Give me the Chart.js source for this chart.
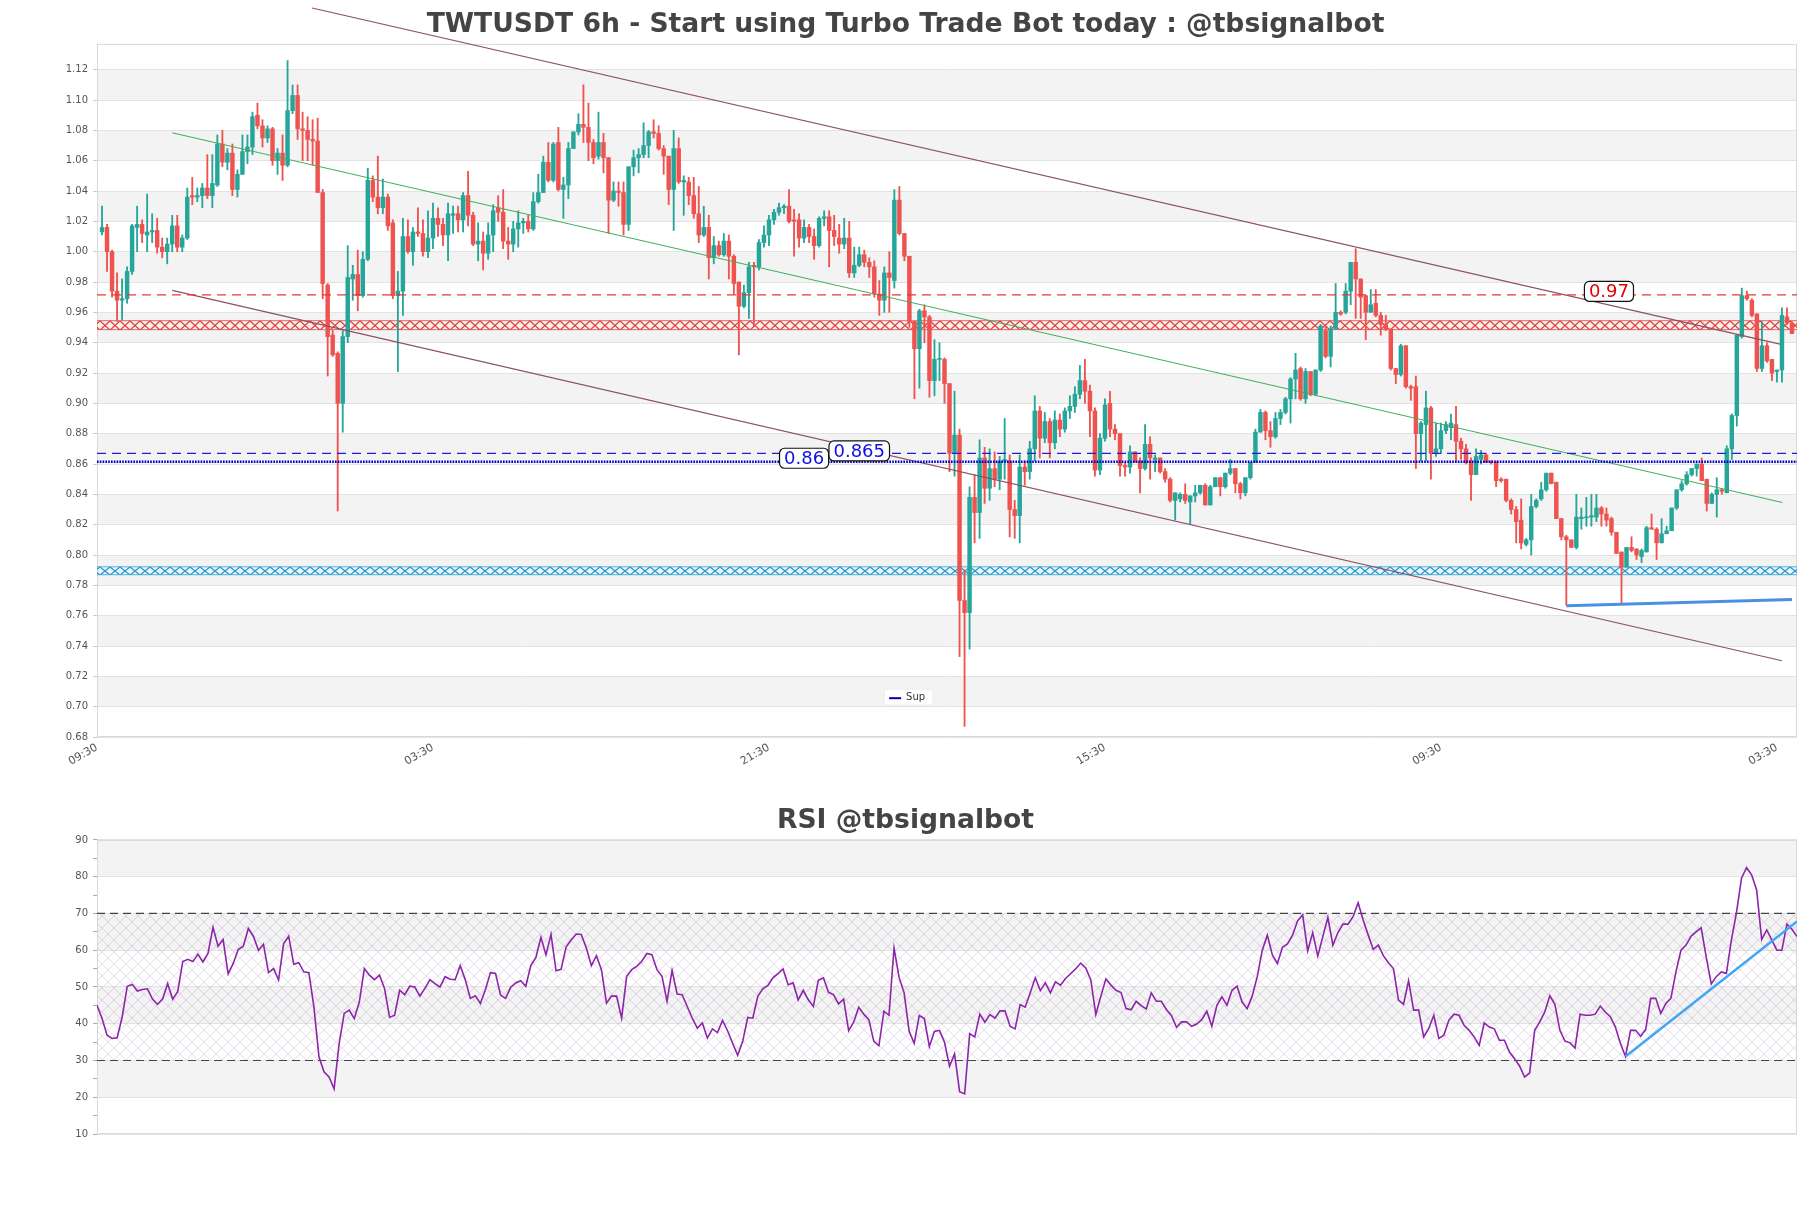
<!DOCTYPE html>
<html>
<head>
<meta charset="utf-8">
<title>TWTUSDT 6h</title>
<script src="https://cdn.jsdelivr.net/npm/chart.js@4.4.1/dist/chart.umd.min.js"></script>
<style>
  html, body { margin: 0; padding: 0; background: #fff; }
  #wrap { position: relative; width: 1811px; height: 1208px; }
  #wrap canvas { position: absolute; left: 0; }
</style>
</head>
<body>
<div id="wrap">
  <canvas id="main" width="1811" height="790" style="top:0;width:1811px;height:790px"></canvas>
  <canvas id="rsi" width="1811" height="418" style="top:790px;width:1811px;height:418px"></canvas>
</div>
<script>
// 6h candles, oldest first
const opens = [
  1.013,1.016,1.000,0.974,0.968,0.969,0.987,1.016,1.018,1.011,
  1.013,1.014,1.003,1.000,1.005,1.017,1.003,1.009,1.037,1.036,
  1.037,1.042,1.037,1.044,1.071,1.059,1.065,1.041,1.051,1.066,
  1.069,1.090,1.083,1.075,1.081,1.060,1.065,1.057,1.093,1.103,
  1.081,1.080,1.074,1.073,1.039,0.978,0.945,0.933,0.900,0.944,
  0.982,0.985,0.971,0.995,1.047,1.036,1.029,1.036,1.019,0.971,
  0.974,1.010,1.000,1.013,1.012,1.000,1.009,1.022,1.018,1.011,
  1.024,1.025,1.021,1.037,1.024,1.005,1.007,0.999,1.011,1.029,
  1.026,1.007,1.005,1.015,1.019,1.020,1.015,1.033,1.039,1.059,
  1.047,1.072,1.041,1.044,1.068,1.079,1.084,1.082,1.072,1.063,
  1.072,1.062,1.034,1.040,1.039,1.018,1.056,1.062,1.064,1.070,
  1.079,1.078,1.068,1.063,1.041,1.068,1.046,1.046,1.037,1.025,
  1.011,1.016,0.996,1.004,0.998,1.007,0.997,0.980,0.964,0.973,
  0.991,0.990,1.006,1.011,1.021,1.026,1.029,1.030,1.021,1.021,
  1.009,1.016,1.010,1.004,1.022,1.023,1.014,1.009,1.005,1.009,
  0.986,0.991,0.998,0.993,0.990,0.972,0.968,0.986,0.981,1.034,
  1.012,0.997,0.954,0.936,0.961,0.957,0.915,0.929,0.929,0.913,
  0.867,0.879,0.770,0.762,0.838,0.828,0.864,0.844,0.857,0.850,
  0.862,0.862,0.830,0.826,0.858,0.855,0.870,0.895,0.877,0.888,
  0.874,0.889,0.883,0.895,0.898,0.906,0.915,0.908,0.895,0.856,
  0.877,0.900,0.883,0.880,0.859,0.858,0.868,0.862,0.857,0.873,
  0.863,0.864,0.855,0.850,0.836,0.837,0.840,0.835,0.839,0.841,
  0.846,0.833,0.845,0.851,0.845,0.854,0.857,0.847,0.841,0.851,
  0.861,0.881,0.894,0.882,0.878,0.890,0.894,0.903,0.916,0.923,
  0.903,0.921,0.906,0.922,0.948,0.931,0.949,0.960,0.960,0.974,
  0.993,0.982,0.971,0.960,0.966,0.958,0.952,0.949,0.923,0.919,
  0.938,0.911,0.911,0.880,0.886,0.897,0.867,0.870,0.882,0.884,
  0.886,0.875,0.870,0.862,0.853,0.863,0.866,0.862,0.861,0.850,
  0.850,0.836,0.830,0.823,0.807,0.810,0.832,0.837,0.843,0.854,
  0.848,0.824,0.812,0.810,0.805,0.824,0.8245,0.825,0.825,0.831,
  0.827,0.824,0.815,0.802,0.792,0.805,0.804,0.799,0.802,0.818,
  0.817,0.808,0.814,0.816,0.831,0.843,0.847,0.853,0.857,0.860,
  0.850,0.834,0.840,0.843,0.841,0.870,0.892,0.944,0.971,0.968,
  0.959,0.923,0.938,0.929,0.921,0.922,0.957,0.953
];
const highs = [
  1.030,1.018,1.001,0.986,0.982,0.990,1.018,1.030,1.021,1.038,
  1.025,1.022,1.009,1.009,1.024,1.024,1.011,1.042,1.049,1.042,
  1.045,1.064,1.064,1.077,1.080,1.068,1.071,1.054,1.077,1.077,
  1.092,1.098,1.087,1.083,1.082,1.068,1.077,1.126,1.110,1.110,
  1.092,1.089,1.087,1.088,1.041,0.979,0.948,0.934,0.948,1.004,
  0.991,1.001,1.000,1.055,1.050,1.063,1.048,1.038,1.021,0.987,
  1.022,1.021,1.016,1.029,1.021,1.027,1.032,1.029,1.022,1.032,
  1.030,1.030,1.039,1.053,1.026,1.019,1.013,1.019,1.031,1.037,
  1.041,1.016,1.020,1.027,1.022,1.024,1.039,1.051,1.063,1.072,
  1.072,1.082,1.049,1.072,1.079,1.091,1.110,1.098,1.074,1.092,
  1.078,1.062,1.046,1.046,1.046,1.056,1.067,1.068,1.085,1.080,
  1.087,1.083,1.070,1.063,1.080,1.075,1.050,1.049,1.049,1.043,
  1.030,1.024,1.010,1.007,1.012,1.011,0.998,0.980,0.978,0.993,
  0.993,1.008,1.017,1.024,1.028,1.032,1.031,1.041,1.028,1.025,
  1.021,1.018,1.015,1.023,1.027,1.027,1.024,1.018,1.022,1.020,
  1.003,1.003,1.001,0.996,0.994,0.981,0.990,1.000,1.041,1.043,
  1.012,0.997,0.954,0.962,0.965,0.958,0.942,0.940,0.930,0.913,
  0.908,0.883,0.790,0.845,0.853,0.876,0.871,0.870,0.868,0.865,
  0.890,0.866,0.836,0.866,0.862,0.875,0.905,0.898,0.894,0.890,
  0.895,0.893,0.897,0.905,0.911,0.925,0.929,0.912,0.897,0.880,
  0.903,0.908,0.886,0.880,0.861,0.872,0.868,0.864,0.886,0.878,
  0.866,0.864,0.857,0.851,0.841,0.841,0.847,0.839,0.846,0.846,
  0.847,0.846,0.851,0.851,0.854,0.863,0.857,0.848,0.851,0.861,
  0.883,0.896,0.895,0.888,0.894,0.896,0.904,0.917,0.933,0.924,
  0.923,0.921,0.922,0.952,0.952,0.951,0.979,0.961,0.979,0.993,
  1.002,0.982,0.971,0.975,0.975,0.960,0.958,0.949,0.923,0.939,
  0.938,0.912,0.918,0.888,0.908,0.898,0.887,0.887,0.888,0.893,
  0.898,0.877,0.873,0.864,0.870,0.869,0.867,0.862,0.862,0.851,
  0.850,0.837,0.832,0.837,0.811,0.840,0.837,0.848,0.854,0.854,
  0.848,0.824,0.813,0.810,0.840,0.831,0.838,0.840,0.840,0.832,
  0.831,0.825,0.815,0.802,0.805,0.812,0.804,0.804,0.819,0.827,
  0.818,0.824,0.819,0.831,0.843,0.849,0.855,0.857,0.860,0.864,
  0.850,0.841,0.851,0.844,0.872,0.893,0.945,0.976,0.974,0.969,
  0.959,0.954,0.940,0.929,0.922,0.963,0.963,0.954
];
const lows = [
  1.011,0.987,0.970,0.954,0.955,0.966,0.985,1.000,1.006,1.000,
  1.006,0.999,0.996,0.992,1.000,1.000,1.000,1.008,1.031,1.033,
  1.029,1.035,1.029,1.043,1.056,1.054,1.037,1.036,1.051,1.058,
  1.064,1.081,1.069,1.072,1.057,1.051,1.047,1.056,1.091,1.074,
  1.060,1.060,1.057,1.048,0.969,0.918,0.931,0.829,0.881,0.940,
  0.968,0.961,0.970,0.994,1.033,1.025,1.025,1.014,0.969,0.921,
  0.958,0.999,0.991,1.010,0.997,0.996,1.002,1.010,1.004,0.994,
  1.012,1.013,1.013,1.017,1.004,0.994,0.988,0.995,1.000,1.020,
  1.002,0.995,1.000,1.003,1.012,1.013,1.014,1.032,1.039,1.046,
  1.046,1.040,1.022,1.035,1.068,1.077,1.072,1.060,1.058,1.061,
  1.052,1.012,1.033,1.030,1.011,1.014,1.050,1.052,1.062,1.062,
  1.075,1.067,1.051,1.031,1.014,1.045,1.024,1.031,1.022,1.006,
  1.010,0.982,0.992,0.997,0.997,0.982,0.972,0.932,0.963,0.956,
  0.951,0.988,1.003,1.004,1.018,1.024,1.025,1.019,0.997,1.003,
  1.006,1.006,0.995,1.003,1.017,0.990,1.004,0.999,1.002,0.983,
  0.983,0.990,0.990,0.983,0.970,0.958,0.960,0.960,0.976,1.011,
  0.994,0.950,0.903,0.910,0.940,0.904,0.905,0.915,0.900,0.855,
  0.852,0.733,0.687,0.738,0.808,0.811,0.834,0.836,0.845,0.843,
  0.850,0.812,0.811,0.808,0.846,0.850,0.862,0.864,0.874,0.864,
  0.870,0.878,0.881,0.890,0.894,0.903,0.900,0.878,0.852,0.853,
  0.875,0.878,0.876,0.852,0.852,0.854,0.861,0.841,0.856,0.850,
  0.855,0.854,0.848,0.835,0.823,0.835,0.834,0.820,0.835,0.840,
  0.833,0.833,0.845,0.839,0.844,0.853,0.841,0.837,0.839,0.850,
  0.861,0.881,0.876,0.871,0.877,0.886,0.893,0.887,0.903,0.902,
  0.900,0.905,0.905,0.921,0.930,0.924,0.949,0.958,0.959,0.965,
  0.956,0.956,0.942,0.960,0.957,0.945,0.948,0.922,0.913,0.918,
  0.910,0.902,0.857,0.862,0.862,0.850,0.865,0.867,0.880,0.876,
  0.862,0.863,0.860,0.836,0.853,0.860,0.861,0.860,0.845,0.848,
  0.835,0.827,0.808,0.804,0.806,0.800,0.831,0.836,0.842,0.847,
  0.824,0.810,0.767,0.805,0.804,0.817,0.819,0.819,0.822,0.819,
  0.819,0.813,0.801,0.768,0.792,0.802,0.797,0.795,0.802,0.817,
  0.797,0.808,0.814,0.816,0.830,0.842,0.846,0.852,0.852,0.849,
  0.829,0.834,0.825,0.840,0.841,0.863,0.885,0.943,0.968,0.957,
  0.921,0.921,0.927,0.915,0.914,0.914,0.952,0.946
];
const closes = [
  1.016,1.000,0.974,0.968,0.969,0.987,1.017,1.018,1.012,1.013,
  1.014,1.003,1.000,1.005,1.017,1.003,1.009,1.036,1.036,1.037,
  1.042,1.037,1.045,1.071,1.059,1.065,1.041,1.051,1.066,1.069,
  1.089,1.083,1.075,1.081,1.060,1.065,1.057,1.093,1.103,1.081,
  1.080,1.074,1.073,1.039,0.979,0.944,0.932,0.900,0.944,0.983,
  0.985,0.971,0.995,1.047,1.036,1.029,1.036,1.017,0.971,0.974,
  1.010,1.000,1.013,1.012,1.000,1.009,1.022,1.018,1.011,1.025,
  1.025,1.021,1.037,1.024,1.005,1.007,0.999,1.011,1.027,1.026,
  1.007,1.005,1.015,1.019,1.020,1.015,1.033,1.039,1.059,1.047,
  1.071,1.041,1.044,1.068,1.079,1.084,1.082,1.072,1.062,1.072,
  1.062,1.034,1.040,1.039,1.018,1.056,1.062,1.064,1.070,1.079,
  1.078,1.068,1.063,1.041,1.068,1.046,1.047,1.037,1.025,1.011,
  1.016,0.996,1.004,0.998,1.007,0.997,0.979,0.964,0.973,0.990,
  0.990,1.006,1.011,1.021,1.026,1.029,1.030,1.020,1.020,1.009,
  1.016,1.010,1.004,1.022,1.023,1.014,1.010,1.005,1.009,0.986,
  0.991,0.998,0.993,0.990,0.972,0.968,0.986,0.983,1.034,1.012,
  0.997,0.954,0.936,0.961,0.957,0.915,0.929,0.929,0.913,0.867,
  0.879,0.770,0.762,0.838,0.828,0.864,0.844,0.857,0.850,0.862,
  0.863,0.830,0.826,0.858,0.855,0.870,0.895,0.877,0.888,0.874,
  0.889,0.883,0.895,0.898,0.906,0.915,0.908,0.895,0.856,0.877,
  0.899,0.883,0.880,0.859,0.858,0.868,0.862,0.857,0.873,0.864,
  0.864,0.855,0.850,0.836,0.841,0.840,0.836,0.839,0.841,0.846,
  0.833,0.845,0.851,0.845,0.854,0.857,0.847,0.841,0.851,0.861,
  0.881,0.894,0.882,0.878,0.890,0.894,0.903,0.916,0.922,0.903,
  0.921,0.906,0.922,0.951,0.931,0.949,0.960,0.959,0.974,0.993,
  0.982,0.970,0.960,0.965,0.958,0.952,0.949,0.923,0.919,0.938,
  0.911,0.910,0.880,0.887,0.897,0.867,0.870,0.882,0.886,0.887,
  0.875,0.870,0.861,0.853,0.865,0.866,0.861,0.861,0.849,0.849,
  0.836,0.830,0.822,0.808,0.810,0.832,0.836,0.843,0.854,0.847,
  0.824,0.812,0.810,0.805,0.825,0.825,0.825,0.826,0.831,0.827,
  0.823,0.815,0.801,0.792,0.805,0.803,0.800,0.803,0.818,0.817,
  0.808,0.814,0.816,0.831,0.843,0.847,0.853,0.857,0.860,0.849,
  0.834,0.840,0.843,0.842,0.870,0.892,0.945,0.971,0.969,0.958,
  0.923,0.938,0.928,0.920,0.922,0.958,0.953,0.946
];
const rsiValues = [
  45.0,41.4,36.9,36.0,36.2,41.9,50.2,50.7,48.9,49.3,
  49.5,46.7,45.3,46.7,50.9,46.7,48.7,56.9,57.5,56.9,
  58.9,56.8,59.1,66.2,61.1,62.9,53.5,56.4,60.2,61.1,
  65.9,63.8,60.0,61.6,53.9,55.0,51.9,61.8,63.8,56.2,
  56.6,54.1,53.9,44.6,31.0,26.9,25.5,22.3,34.6,42.8,
  43.7,41.4,45.9,55.0,53.2,52.0,53.2,49.6,41.7,42.3,
  49.1,47.9,50.2,50.0,47.5,49.6,52.0,50.9,50.0,52.8,
  52.1,52.0,55.8,52.0,46.9,47.6,45.5,49.3,53.9,53.7,
  47.8,46.9,49.9,51.1,51.7,50.2,55.9,58.0,63.5,58.7,
  64.3,54.4,54.8,60.9,62.8,64.4,64.3,60.6,55.8,58.5,
  54.7,45.6,47.5,47.5,41.5,52.9,54.7,55.6,57.0,59.1,
  58.8,54.7,52.9,46.1,54.5,48.1,47.9,44.7,41.5,38.8,
  40.2,36.1,38.6,37.6,40.9,38.1,34.7,31.4,35.2,41.7,
  41.5,47.5,49.5,50.4,52.5,53.6,54.9,50.6,51.1,46.5,
  49.1,46.5,44.7,51.8,52.5,48.6,47.9,45.4,46.7,38.1,
  40.4,44.5,42.6,41.1,35.2,34.0,43.4,42.3,60.6,52.6,
  48.4,37.9,34.7,42.2,41.4,33.8,37.9,38.2,35.0,28.4,
  31.8,21.5,20.9,37.3,36.4,42.6,40.4,42.5,41.5,43.5,
  43.5,39.3,38.6,45.2,44.5,48.4,52.5,49.0,51.1,48.4,
  51.4,50.5,52.3,53.6,54.9,56.5,55.2,52.0,42.5,47.5,
  52.2,50.5,49.1,48.5,44.1,43.8,46.1,44.9,44.0,48.4,
  46.1,46.1,43.8,42.2,39.0,40.5,40.5,39.3,39.9,41.1,
  43.4,39.3,45.0,47.3,45.0,49.1,50.2,45.9,44.1,47.5,
  52.8,60.0,64.1,58.7,56.4,60.8,61.7,64.1,68.0,69.6,
  59.8,64.8,58.4,63.7,68.9,61.4,64.8,67.1,67.1,69.1,
  72.9,68.2,64.1,60.2,61.4,58.5,56.6,55.0,46.4,45.3,
  51.7,43.7,43.7,36.4,38.7,42.3,36.0,36.9,41.0,42.6,
  42.3,39.6,38.2,36.4,34.1,40.2,39.1,38.6,35.5,35.5,
  32.3,30.5,28.5,25.5,26.6,38.2,40.5,43.2,47.6,45.3,
  38.2,35.3,34.8,33.4,42.6,42.3,42.3,42.6,44.8,43.2,
  41.9,39.1,34.6,31.1,38.2,38.2,36.6,38.4,46.9,46.9,
  42.8,45.5,46.9,54.1,60.0,61.4,63.8,65.0,66.1,58.2,
  50.8,52.8,54.1,53.7,62.8,70.2,79.6,82.5,80.5,76.4,
  62.9,65.5,62.8,60.0,60.0,67.1,65.7,63.7
];

// axis ticks
const yTicks = [0.68,0.70,0.72,0.74,0.76,0.78,0.80,0.82,0.84,0.86,0.88,0.90,0.92,0.94,0.96,0.98,1.00,1.02,1.04,1.06,1.08,1.10,1.12];
const xTickPos = [-1, 66, 133, 200, 267, 334];
const xTickLabels = ['09:30', '03:30', '21:30', '15:30', '09:30', '03:30'];
const rsiTicks = [10,15,20,25,30,35,40,45,50,55,60,65,70,75,80,85,90];

// levels, zones and trend lines
const resistLevel = 0.9715;
const supLevel = 0.8615;
const supLevel2 = 0.867;
const redZone = [0.9486, 0.9545];
const blueZone = [0.787, 0.7922];
const upperTrendX = [41.9, 334.6], upperTrendY = [1.1607, 0.9391];
const lowerTrendX = [14, 335], lowerTrendY = [0.9745, 0.7303];
const midTrendX = [14, 335.1], midTrendY = [1.0784, 0.8346];
const supTrendX = [292, 337], supTrendY = [0.7665, 0.7707];
const rsiLevels = [30, 70];
const rsiTrendX = [303, 337], rsiTrendY = [31.1, 67.8];

// price tags on the levels
const tagX = [140, 151, 300.5];
const tagY = [0.8638, 0.8686, 0.9738];
const tagText = ['0.86', '0.865', '0.97'];

const priceBands = [[0.70,0.72],[0.74,0.76],[0.78,0.80],[0.82,0.84],[0.86,0.88],[0.90,0.92],[0.94,0.96],[0.98,1.00],[1.02,1.04],[1.06,1.08],[1.10,1.12]];
const rsiBands = [[20,30],[40,50],[60,70],[80,90]];

const X_MIN = -1, X_MAX = 338;
const UP = '#26a69a', DOWN = '#ef5350';
const FONT = "'DejaVu Sans', sans-serif";
Chart.defaults.font.family = FONT;

function hatch(canvasId, w, h, color, lw) {
  const tile = document.createElement('canvas');
  tile.width = w; tile.height = h;
  const g = tile.getContext('2d');
  g.strokeStyle = color; g.lineWidth = lw;
  g.beginPath();
  g.moveTo(0, 0); g.lineTo(w, h);
  g.moveTo(0, h); g.lineTo(w, 0);
  g.stroke();
  return document.getElementById(canvasId).getContext('2d').createPattern(tile, 'repeat');
}

function roundRect(ctx, x, y, w, h, r) {
  ctx.beginPath();
  ctx.moveTo(x + r, y);
  ctx.arcTo(x + w, y, x + w, y + h, r);
  ctx.arcTo(x + w, y + h, x, y + h, r);
  ctx.arcTo(x, y + h, x, y, r);
  ctx.arcTo(x, y, x + w, y, r);
  ctx.closePath();
}

function bandsPlugin(ranges) {
  return {
    id: 'bands',
    beforeDraw(chart) {
      const {ctx, chartArea: a, scales: {y}} = chart;
      ctx.save();
      ctx.fillStyle = '#f3f3f3';
      ranges.forEach(([lo, hi]) => {
        const y1 = y.getPixelForValue(hi), y2 = y.getPixelForValue(lo);
        ctx.fillRect(a.left, y1, a.right - a.left, y2 - y1);
      });
      ctx.restore();
    },
    beforeDatasetsDraw(chart) {
      const {ctx, chartArea: a} = chart;
      ctx.save();
      ctx.strokeStyle = '#d9d9d9';
      ctx.lineWidth = 1;
      ctx.strokeRect(a.left + 0.5, a.top + 0.5, a.right - a.left - 1, a.bottom - a.top - 1);
      ctx.restore();
    }
  };
}

function hline(v, extra) {
  return Object.assign({
    type: 'line',
    data: [{x: X_MIN, y: v}, {x: X_MAX, y: v}],
    pointRadius: 0, borderWidth: 1.4, fill: false
  }, extra);
}
function seg(xs, ys, extra) {
  return Object.assign({
    type: 'line',
    data: xs.map((x, i) => ({x, y: ys[i]})),
    pointRadius: 0, fill: false
  }, extra);
}

// ---------- price chart ----------
const redHatch = hatch('main', 10, 9, '#e53935', 1.3);
const blueHatch = hatch('main', 10, 8, '#1e9bd7', 1.3);

const hatchAlign = {
  id: 'hatchAlign',
  beforeDatasetsDraw(chart) {
    const y = chart.scales.y;
    redHatch.setTransform(new DOMMatrix().translate(0, Math.round(y.getPixelForValue(redZone[1]))));
    blueHatch.setTransform(new DOMMatrix().translate(0, Math.round(y.getPixelForValue(blueZone[1]))));
  }
};

const priceTags = {
  id: 'priceTags',
  afterDatasetsDraw(chart) {
    const {ctx, scales: {x, y}} = chart;
    ctx.save();
    ctx.font = '18px ' + FONT;
    ctx.textAlign = 'center';
    ctx.textBaseline = 'middle';
    tagText.forEach((t, i) => {
      const px = x.getPixelForValue(tagX[i]), py = y.getPixelForValue(tagY[i]);
      const w = ctx.measureText(t).width + 9, h = 20;
      roundRect(ctx, px - w / 2, py - h / 2, w, h, 5);
      ctx.fillStyle = '#fff'; ctx.fill();
      ctx.lineWidth = 1.2; ctx.strokeStyle = '#111'; ctx.stroke();
      ctx.fillStyle = t === '0.97' ? '#e60000' : '#1010e0';
      ctx.fillText(t, px, py + 1);
    });
    ctx.restore();
  }
};

const supLegend = {
  id: 'supLegend',
  afterDraw(chart) {
    const {ctx, chartArea: a} = chart;
    const bx = a.left + 0.463 * (a.right - a.left), by = a.top + 0.931 * (a.bottom - a.top);
    ctx.save();
    roundRect(ctx, bx, by, 49, 16, 3);
    ctx.fillStyle = 'rgba(255,255,255,0.9)'; ctx.fill();
    ctx.strokeStyle = '#ececec'; ctx.lineWidth = 1; ctx.stroke();
    ctx.strokeStyle = '#0000b0'; ctx.lineWidth = 2;
    ctx.beginPath(); ctx.moveTo(bx + 5, by + 9); ctx.lineTo(bx + 17, by + 9); ctx.stroke();
    ctx.fillStyle = '#333'; ctx.font = '10px ' + FONT;
    ctx.textBaseline = 'middle';
    ctx.fillText('Sup', bx + 22, by + 8.5);
    ctx.restore();
  }
};

const candleColor = c => closes[c.dataIndex] >= opens[c.dataIndex] ? UP : DOWN;

new Chart(document.getElementById('main'), {
  type: 'bar',
  data: {
    datasets: [
      hline(redZone[0], {borderColor: 'rgba(229,57,53,0.75)', borderWidth: 1, order: 9}),
      hline(redZone[1], {borderColor: 'rgba(229,57,53,0.75)', borderWidth: 1, fill: '-1', backgroundColor: redHatch, order: 9}),
      hline(blueZone[0], {borderColor: 'rgba(30,155,215,0.75)', borderWidth: 1, order: 9}),
      hline(blueZone[1], {borderColor: 'rgba(30,155,215,0.75)', borderWidth: 1, fill: '-1', backgroundColor: blueHatch, order: 9}),
      {
        label: 'wicks', order: 6, grouped: false, barThickness: 1.2,
        data: highs.map((h, i) => ({x: i, y: [lows[i], h]})),
        backgroundColor: candleColor, borderWidth: 0
      },
      {
        label: 'bodies', order: 5, grouped: false, barThickness: 3.8, minBarLength: 1,
        data: opens.map((o, i) => ({x: i, y: [o, closes[i]]})),
        backgroundColor: candleColor, borderWidth: 0
      },
      seg(upperTrendX, upperTrendY, {borderColor: '#8d4f63', borderWidth: 1.2, clip: false, order: 3}),
      seg(lowerTrendX, lowerTrendY, {borderColor: '#8d4f63', borderWidth: 1.2, order: 3}),
      seg(midTrendX, midTrendY, {borderColor: '#3fae5a', borderWidth: 1, order: 3}),
      seg(supTrendX, supTrendY, {borderColor: '#4a90e2', borderWidth: 3, order: 3}),
      hline(resistLevel, {borderColor: '#e53935', borderDash: [9, 6], order: 2}),
      hline(supLevel2, {borderColor: '#1f1fd1', borderDash: [9, 6], order: 2}),
      hline(supLevel, {label: 'Sup', borderColor: '#0000c8', borderWidth: 2.6, borderDash: [1.6, 1.2], order: 2})
    ]
  },
  options: {
    responsive: false,
    animation: false,
    events: [],
    layout: {padding: {top: 0, right: 14, bottom: 0, left: 14}},
    plugins: {
      legend: {display: false},
      tooltip: {enabled: false},
      title: {
        display: true,
        text: 'TWTUSDT 6h - Start using Turbo Trade Bot today : @tbsignalbot',
        color: '#444',
        font: {size: 26.6, weight: 'bold'},
        padding: {top: 9, bottom: 3}
      }
    },
    scales: {
      x: {
        type: 'linear', min: X_MIN, max: X_MAX, offset: false,
        grid: {display: false, tickLength: 2},
        border: {display: false},
        afterBuildTicks: s => { s.ticks = xTickPos.map(v => ({value: v})); },
        afterFit: s => { s.height = 53; },
        ticks: {
          autoSkip: false, minRotation: 30, maxRotation: 30, padding: 2,
          color: '#555', font: {size: 11},
          callback: (v, i) => xTickLabels[i]
        }
      },
      y: {
        min: 0.68, max: 1.137,
        afterBuildTicks: s => { s.ticks = yTicks.map(v => ({value: v})); },
        afterFit: s => { s.width = 83; },
        grid: {color: '#e3e3e3', tickColor: '#c8c8c8', tickLength: 4},
        border: {color: '#d9d9d9'},
        ticks: {padding: 5, color: '#555', font: {size: 10}, callback: v => v.toFixed(2)}
      }
    }
  },
  plugins: [bandsPlugin(priceBands), hatchAlign, priceTags, supLegend]
});

// ---------- RSI chart ----------
const rsiHatch = hatch('rsi', 12, 12, 'rgba(165,145,190,0.30)', 1);

new Chart(document.getElementById('rsi'), {
  type: 'line',
  data: {
    datasets: [
      hline(rsiLevels[0], {data: [{x: 0, y: rsiLevels[0]}, {x: 337, y: rsiLevels[0]}], borderColor: '#444', borderWidth: 1.2, borderDash: [8, 5], order: 4}),
      hline(rsiLevels[1], {data: [{x: 0, y: rsiLevels[1]}, {x: 337, y: rsiLevels[1]}], borderColor: '#444', borderWidth: 1.2, borderDash: [8, 5], fill: '-1', backgroundColor: rsiHatch, order: 4}),
      {
        label: 'RSI', order: 2,
        data: rsiValues.map((v, i) => ({x: i, y: v})),
        borderColor: '#8e24aa', borderWidth: 1.6, pointRadius: 0, fill: false, tension: 0
      },
      seg(rsiTrendX, rsiTrendY, {borderColor: '#42a5f5', borderWidth: 2.5, order: 1})
    ]
  },
  options: {
    responsive: false,
    animation: false,
    events: [],
    layout: {padding: {top: 0, right: 14, bottom: 74, left: 14}},
    plugins: {
      legend: {display: false},
      tooltip: {enabled: false},
      title: {
        display: true,
        text: 'RSI @tbsignalbot',
        color: '#444',
        font: {size: 26.6, weight: 'bold'},
        padding: {top: 15, bottom: 3}
      }
    },
    scales: {
      x: {type: 'linear', min: 0, max: 337, display: false},
      y: {
        min: 10, max: 90,
        afterBuildTicks: s => { s.ticks = rsiTicks.map(v => ({value: v})); },
        afterFit: s => { s.width = 83; },
        grid: {
          color: c => (c.tick && c.tick.value % 10 === 0) ? '#e3e3e3' : 'rgba(0,0,0,0)',
          tickColor: '#aaa', tickLength: 4
        },
        border: {color: '#d9d9d9'},
        ticks: {padding: 5, color: '#555', font: {size: 10}, callback: v => v % 10 === 0 ? String(v) : ''}
      }
    }
  },
  plugins: [bandsPlugin(rsiBands)]
});
</script>
</body>
</html>
